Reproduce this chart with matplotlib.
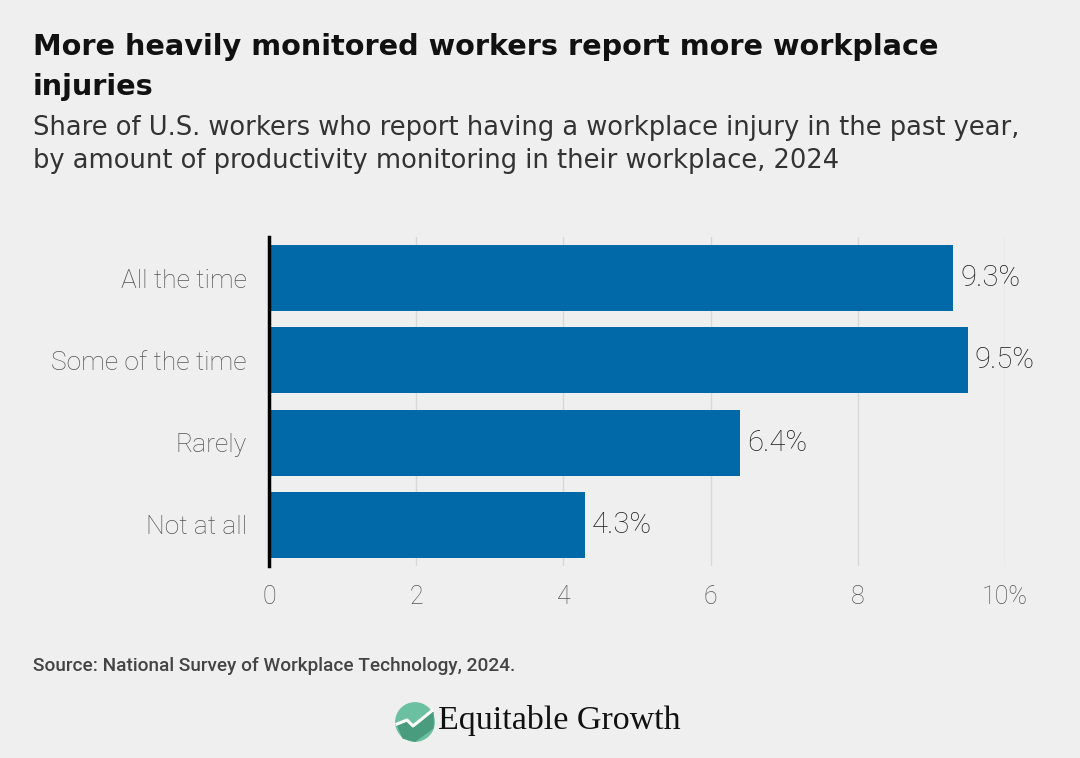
import matplotlib
matplotlib.use("Agg")
import matplotlib.pyplot as plt
from matplotlib.patches import Circle, Polygon

categories = ["All the time", "Some of the time", "Rarely", "Not at all"]
values = [9.3, 9.5, 6.4, 4.3]
value_labels = ["9.3%", "9.5%", "6.4%", "4.3%"]
xticks = [0, 2, 4, 6, 8, 10]
xtick_labels = ["0", "2", "4", "6", "8", "10%"]

BG = "#efefef"
BAR = "#0169a8"

plt.rcParams['font.family'] = ['Roboto', 'DejaVu Sans']

fig = plt.figure(figsize=(10.8, 7.58), dpi=100, facecolor=BG)
ax = fig.add_axes([269/1080, 1-566/758, (1005-269)/1080, (566-237)/758])
ax.set_facecolor(BG)

ypos = list(range(len(categories)))
ax.barh(ypos, values, height=0.8, color=BAR, zorder=3)
ax.set_ylim(3.5, -0.5)
ax.set_xlim(0, 10)
ax.set_yticks(ypos)
ax.set_yticklabels(categories, fontsize=19, color="#555555", fontweight="light")
ax.set_xticks(xticks)
ax.set_xticklabels(xtick_labels, fontsize=18, color="#555555", fontweight="light")
ax.tick_params(axis="y", length=0, pad=16)
ax.tick_params(axis="x", length=0, pad=14)
ax.grid(axis="x", color="#d8d8d8", linewidth=1, zorder=0)
for s in ["top", "right", "bottom"]:
    ax.spines[s].set_visible(False)
ax.spines["left"].set_color("black")
ax.spines["left"].set_linewidth(2.5)
ax.spines["left"].set_zorder(5)

for y, v, lab in zip(ypos, values, value_labels):
    ax.text(v + 0.09, y, lab, va="center", ha="left", fontsize=21, color="#222222",
            fontweight="light", clip_on=False)

title_font = dict(family=["DejaVu Sans"], fontsize=20.7, fontweight="bold", color="#111111",
                  va="center", ha="left")
fig.text(33/1080, 1-47/758, "More heavily monitored workers report more workplace", **title_font)
fig.text(33/1080, 1-87/758, "injuries", **title_font)
sub_font = dict(family=["DejaVu Sans"], fontsize=18.5, color="#333333", va="center", ha="left")
fig.text(33/1080, 1-128/758, "Share of U.S. workers who report having a workplace injury in the past year,",
         **sub_font)
fig.text(33/1080, 1-161/758, "by amount of productivity monitoring in their workplace, 2024",
         **sub_font)
fig.text(33/1080, 1-666/758, "Source: National Survey of Workplace Technology, 2024.",
         fontsize=13.7, color="#444444", fontweight="medium", va="center", ha="left")

# logo
lax = fig.add_axes([395/1080, 1-742/758, 40/1080, 40/758])
lax.set_xlim(0, 1); lax.set_ylim(0, 1); lax.set_aspect("equal"); lax.axis("off")
lax.add_patch(Circle((0.5, 0.5), 0.48, color="#6cc0a2"))
lax.add_patch(Polygon([[0.05, 0.45], [0.3, 0.55], [0.45, 0.4], [0.7, 0.6], [0.95, 0.75],
                       [0.95, 0.35], [0.5, 0.02], [0.2, 0.1]], closed=True, color="#4a9c7e"))
lax.plot([0.05, 0.3, 0.45, 0.7, 0.92], [0.45, 0.55, 0.4, 0.6, 0.78], color="white", lw=2.2)
fig.text(438/1080, 1-720/758, "Equitable Growth", fontsize=24.5, color="#111111",
         family=["Liberation Serif", "DejaVu Serif"], va="center", ha="left")

fig.savefig("out.png", dpi=100, facecolor=BG)
